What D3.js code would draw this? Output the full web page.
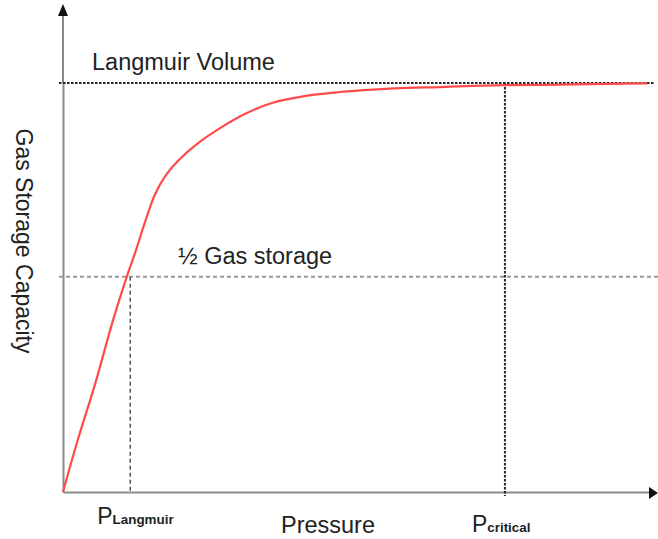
<!DOCTYPE html>
<html>
<head>
<meta charset="utf-8">
<script src="https://cdn.jsdelivr.net/npm/d3@7"></script>
<style>
  body { margin: 0; background: #fff; }
  text { font-family: "Liberation Sans", Arial, sans-serif; fill: #222; }
</style>
</head>
<body>
<div class="chart"></div>
<script>
"use strict";

// Isotherm (pressure, fraction of Langmuir volume)
const pressure = [0, 0.25, 0.54, 0.85, 1.08, 1.22, 1.39, 1.56, 1.73, 1.95, 2.29, 2.69,
                  3.08, 3.54, 4.14, 4.69, 5.25, 5.83, 6.39, 6.95, 7.53, 8.42, 9.27, 9.90];
const storage  = [0, 0.127, 0.262, 0.421, 0.526, 0.584, 0.660, 0.728, 0.772, 0.810, 0.853, 0.892,
                  0.924, 0.951, 0.969, 0.978, 0.984, 0.988, 0.990, 0.993, 0.995, 0.996, 0.998, 0.999];

// Reference levels
const langmuirVolume = 1.0;
const halfStorage = 0.526;
const pLangmuir = 1.14;
const pCritical = 7.49;

// Labels
const xLabels = [
  {p: pLangmuir, main: "P", sub: "Langmuir"},
  {p: pCritical, main: "P", sub: "critical"}
];

function ready(){
  const width = 658, height = 539;

  const svg = d3.select('.chart')
    .append('svg')
    .attr('width', width)
    .attr('height', height);

  const x = d3.scaleLinear().domain([0, 10]).range([63, 653]);
  const y = d3.scaleLinear().domain([0, 1]).range([492, 83]);

  // Axes (no ticks, only the lines)
  svg.append('g')
    .attr('transform', `translate(0, ${y(0)})`)
    .call(d3.axisBottom(x).tickValues([]).tickSizeOuter(0))
    .select('.domain')
    .attr('stroke', '#8a8a8a')
    .attr('stroke-width', 2);

  svg.append('g')
    .attr('transform', `translate(${x(0)}, 0)`)
    .call(d3.axisLeft(y).tickValues([]).tickSizeOuter(0))
    .select('.domain')
    .attr('stroke', '#8a8a8a')
    .attr('stroke-width', 2);

  // axis extensions to arrows
  svg.append('line')
    .attr('x1', x(0)).attr('x2', x(0))
    .attr('y1', y(1)).attr('y2', 14)
    .attr('stroke', '#8a8a8a').attr('stroke-width', 2);
  svg.append('line')
    .attr('x1', x(10)).attr('x2', 652)
    .attr('y1', y(0)).attr('y2', y(0))
    .attr('stroke', '#8a8a8a').attr('stroke-width', 2);

  // arrowheads
  svg.append('path')
    .attr('d', `M${x(0)},4 L${x(0) - 5},16 L${x(0) + 5},16 Z`)
    .attr('fill', '#111');
  svg.append('path')
    .attr('d', `M658,${y(0) + 1} L649,${y(0) - 5} L649,${y(0) + 7} Z`)
    .attr('fill', '#111');

  // Langmuir volume line
  svg.append('line')
    .attr('x1', x(0) - 4).attr('x2', 655)
    .attr('y1', y(langmuirVolume)).attr('y2', y(langmuirVolume))
    .attr('stroke', '#222').attr('stroke-width', 2)
    .attr('stroke-dasharray', '2.5,1.5');

  // half storage line
  svg.append('line')
    .attr('x1', x(0) - 4).attr('x2', 658)
    .attr('y1', y(halfStorage)).attr('y2', y(halfStorage))
    .attr('stroke', '#999').attr('stroke-width', 2)
    .attr('stroke-dasharray', '4,3');

  // P Langmuir drop line
  svg.append('line')
    .attr('x1', x(pLangmuir)).attr('x2', x(pLangmuir))
    .attr('y1', y(halfStorage)).attr('y2', y(0))
    .attr('stroke', '#555').attr('stroke-width', 1.5)
    .attr('stroke-dasharray', '4,3');

  // P critical drop line
  svg.append('line')
    .attr('x1', x(pCritical)).attr('x2', x(pCritical))
    .attr('y1', y(langmuirVolume)).attr('y2', y(0) + 4)
    .attr('stroke', '#222').attr('stroke-width', 2)
    .attr('stroke-dasharray', '2.5,1.5');

  // Isotherm curve
  const pts = pressure.map((p, i) => [p, storage[i]]);
  const line = d3.line()
    .x(d => x(d[0]))
    .y(d => y(d[1]))
    .curve(d3.curveCatmullRom.alpha(0.5));

  svg.append('path')
    .datum(pts)
    .attr('d', line)
    .attr('fill', 'none')
    .attr('stroke', '#ff4a4a')
    .attr('stroke-width', 2.2);

  // Texts
  svg.append('text')
    .attr('x', 92).attr('y', 70)
    .style('font-size', '23.5px')
    .text('Langmuir Volume');

  svg.append('text')
    .attr('x', 178).attr('y', 264)
    .style('font-size', '23.5px')
    .text('½ Gas storage');

  svg.append('text')
    .attr('x', 328).attr('y', 533)
    .attr('text-anchor', 'middle')
    .style('font-size', '23.5px')
    .text('Pressure');

  svg.append('text')
    .attr('transform', 'translate(16, 241) rotate(90)')
    .attr('text-anchor', 'middle')
    .style('font-size', '23px')
    .text('Gas Storage Capacity');

  const lbl = svg.selectAll('.plabel')
    .data(xLabels)
    .enter()
    .append('text')
    .attr('class', 'plabel')
    .attr('x', d => x(d.p) - 33)
    .attr('y', (d, i) => i === 0 ? 524 : 532)
    .style('font-size', '23px');
  lbl.append('tspan').text(d => d.main);
  lbl.append('tspan')
    .style('font-size', '13.4px')
    .style('font-weight', 'bold')
    .text(d => d.sub);
}

ready();
</script>
</body>
</html>
